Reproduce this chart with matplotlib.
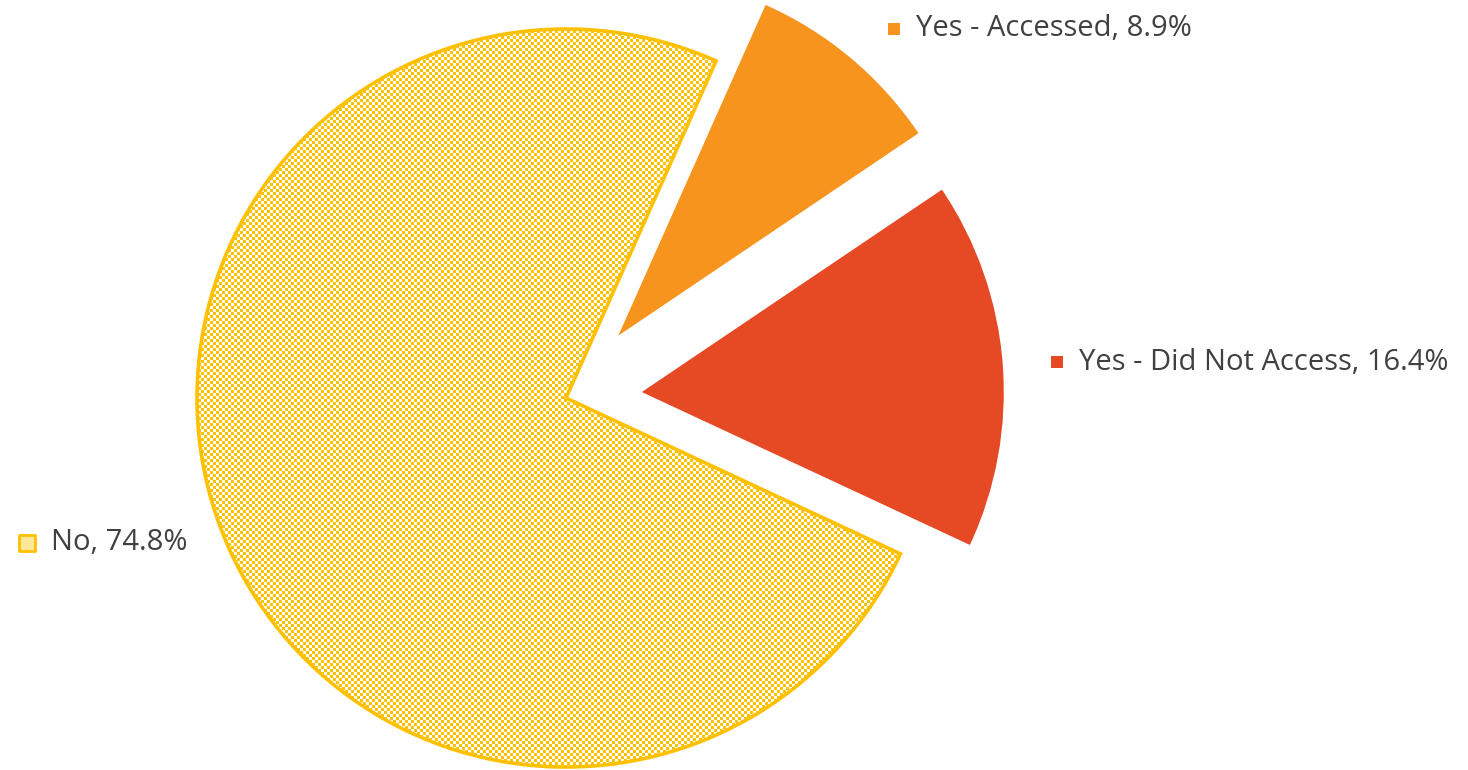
import numpy as np
import matplotlib
matplotlib.use("Agg")
import matplotlib.pyplot as plt

# survey answers, clockwise from the top-right
labels = ["Yes - Accessed", "Yes - Did Not Access", "No"]
shares = [8.9, 16.4, 74.8]
colors = ["#F7941E", "#E64A24", "#FFC000"]
explode = [0.225, 0.21, 0.0]   # fraction of radius

W, H = 1468, 770
R = 362
plt.rcParams["font.family"] = ["Open Sans", "DejaVu Sans"]

fig = plt.figure(figsize=(W / 100, H / 100), dpi=100)
ax = fig.add_axes([0, 0, 1, 1])

# pie() offsets by explode in data units, so scale by the radius
wedges, _ = ax.pie(shares, colors=colors, explode=[e * R for e in explode],
                   startangle=66, counterclock=False, center=(566, H - 398),
                   radius=R, wedgeprops=dict(linewidth=0))

# "No" slice: fine yellow checker fill with a solid yellow rim
no = wedges[2]
no.set_radius(369)
no.set_facecolor("none")
no.set_edgecolor("#FFC000")
no.set_linewidth(2.6)
no.set_zorder(3)

yy, xx = np.mgrid[0:H, 0:W]
cell = (yy // 3 + xx // 3) % 2
tex = np.ones((H, W, 3))
tex[cell == 1] = np.array([255, 192, 0]) / 255
im = ax.imshow(tex, extent=(0, W, 0, H), interpolation="nearest", zorder=2)
im.set_clip_path(no)

ax.set_xlim(0, W)
ax.set_ylim(0, H)
ax.set_aspect("equal")
ax.axis("off")

# data labels with legend keys
label_pos = [(894, 29), (1057, 362), (27, 543)]
for i, (lab, val) in enumerate(zip(labels, shares)):
    mx, my = label_pos[i]
    if i == 2:
        ax.scatter(mx, H - my, marker="s", s=130, facecolor="#FFE699",
                   edgecolor="#FFC000", linewidth=2, zorder=5)
        tx = mx + 24
    else:
        ax.scatter(mx, H - my, marker="s", s=80, color=colors[i],
                   linewidth=0, zorder=5)
        tx = mx + 22
    ax.text(tx, H - my, f"{lab}, {val}%", fontsize=21, color="#404040",
            va="center", ha="left", zorder=5)

fig.savefig("out.png", dpi=100)
